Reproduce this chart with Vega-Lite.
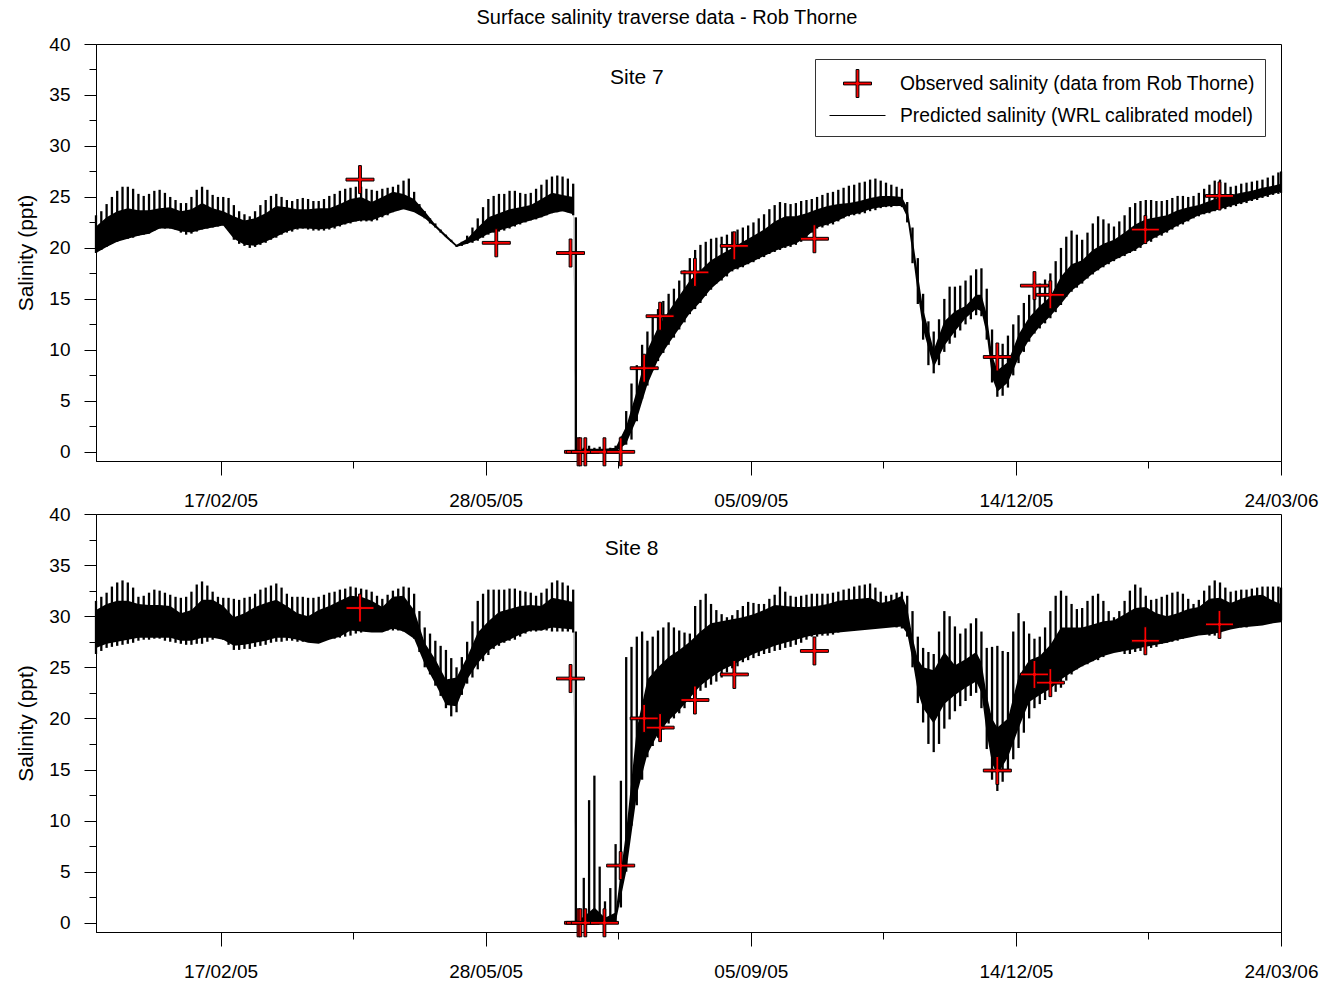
{
  "$schema": "https://vega.github.io/schema/vega-lite/v6.json",
  "background": "white",
  "padding": {"left": 15, "top": 7, "right": 5, "bottom": 5},
  "title": {"text": "Surface salinity traverse data - Rob Thorne", "fontSize": 20, "fontWeight": "normal", "font": "Liberation Sans", "color": "#000000", "anchor": "middle", "frame": "bounds", "offset": 7},
  "datasets": {
    "tide": [
      {"d":"2005-01-01","lo7":19.5,"hi7":23.2,"lo8":26.3,"hi8":31.5},
      {"d":"2005-01-03","lo7":19.8,"hi7":23.6,"lo8":26.6,"hi8":31.9},
      {"d":"2005-01-05","lo7":20.1,"hi7":24.3,"lo8":26.9,"hi8":32.3},
      {"d":"2005-01-07","lo7":20.4,"hi7":25.0,"lo8":27.0,"hi8":32.9},
      {"d":"2005-01-09","lo7":20.6,"hi7":25.6,"lo8":27.1,"hi8":33.3},
      {"d":"2005-01-11","lo7":20.8,"hi7":26.0,"lo8":27.2,"hi8":33.5},
      {"d":"2005-01-13","lo7":20.9,"hi7":26.0,"lo8":27.3,"hi8":33.3},
      {"d":"2005-01-15","lo7":21.0,"hi7":25.8,"lo8":27.4,"hi8":32.8},
      {"d":"2005-01-17","lo7":21.2,"hi7":25.3,"lo8":27.6,"hi8":31.9},
      {"d":"2005-01-19","lo7":21.3,"hi7":25.1,"lo8":27.7,"hi8":32.0},
      {"d":"2005-01-21","lo7":21.4,"hi7":25.3,"lo8":27.7,"hi8":32.3},
      {"d":"2005-01-23","lo7":21.7,"hi7":25.6,"lo8":27.8,"hi8":32.6},
      {"d":"2005-01-25","lo7":21.9,"hi7":25.7,"lo8":27.8,"hi8":32.5},
      {"d":"2005-01-27","lo7":21.9,"hi7":25.4,"lo8":27.6,"hi8":32.3},
      {"d":"2005-01-29","lo7":21.9,"hi7":25.0,"lo8":27.5,"hi8":32.1},
      {"d":"2005-01-31","lo7":21.8,"hi7":24.7,"lo8":27.4,"hi8":31.9},
      {"d":"2005-02-02","lo7":21.5,"hi7":24.4,"lo8":27.3,"hi8":31.8},
      {"d":"2005-02-04","lo7":21.3,"hi7":24.4,"lo8":27.2,"hi8":31.9},
      {"d":"2005-02-06","lo7":21.4,"hi7":25.0,"lo8":27.2,"hi8":32.4},
      {"d":"2005-02-08","lo7":21.6,"hi7":25.7,"lo8":27.3,"hi8":33.1},
      {"d":"2005-02-10","lo7":21.8,"hi7":26.0,"lo8":27.3,"hi8":33.4},
      {"d":"2005-02-12","lo7":21.9,"hi7":25.7,"lo8":27.5,"hi8":33.0},
      {"d":"2005-02-14","lo7":22.0,"hi7":25.2,"lo8":27.7,"hi8":32.4},
      {"d":"2005-02-16","lo7":22.1,"hi7":25.0,"lo8":27.9,"hi8":31.9},
      {"d":"2005-02-18","lo7":22.2,"hi7":25.0,"lo8":27.7,"hi8":31.8},
      {"d":"2005-02-20","lo7":22.0,"hi7":24.9,"lo8":27.2,"hi8":31.8},
      {"d":"2005-02-22","lo7":20.8,"hi7":24.2,"lo8":26.7,"hi8":31.7},
      {"d":"2005-02-24","lo7":20.4,"hi7":23.6,"lo8":26.7,"hi8":31.6},
      {"d":"2005-02-26","lo7":20.2,"hi7":23.3,"lo8":26.8,"hi8":31.8},
      {"d":"2005-02-28","lo7":20.0,"hi7":23.1,"lo8":26.8,"hi8":31.9},
      {"d":"2005-03-02","lo7":20.1,"hi7":23.6,"lo8":27.0,"hi8":32.2},
      {"d":"2005-03-04","lo7":20.3,"hi7":24.2,"lo8":27.1,"hi8":32.6},
      {"d":"2005-03-06","lo7":20.5,"hi7":24.7,"lo8":27.2,"hi8":32.8},
      {"d":"2005-03-08","lo7":20.8,"hi7":25.1,"lo8":27.4,"hi8":33.0},
      {"d":"2005-03-10","lo7":21.0,"hi7":25.3,"lo8":27.5,"hi8":33.2},
      {"d":"2005-03-12","lo7":21.3,"hi7":25.0,"lo8":27.5,"hi8":32.8},
      {"d":"2005-03-14","lo7":21.5,"hi7":24.7,"lo8":27.6,"hi8":32.2},
      {"d":"2005-03-16","lo7":21.6,"hi7":24.6,"lo8":27.6,"hi8":31.9},
      {"d":"2005-03-18","lo7":21.8,"hi7":24.8,"lo8":27.5,"hi8":31.9},
      {"d":"2005-03-20","lo7":21.9,"hi7":24.9,"lo8":27.5,"hi8":31.9},
      {"d":"2005-03-22","lo7":21.8,"hi7":24.8,"lo8":27.5,"hi8":31.8},
      {"d":"2005-03-24","lo7":21.7,"hi7":24.6,"lo8":27.5,"hi8":31.8},
      {"d":"2005-03-26","lo7":21.7,"hi7":24.6,"lo8":27.6,"hi8":31.9},
      {"d":"2005-03-28","lo7":21.7,"hi7":24.8,"lo8":27.7,"hi8":32.1},
      {"d":"2005-03-30","lo7":21.8,"hi7":25.1,"lo8":27.8,"hi8":32.3},
      {"d":"2005-04-01","lo7":21.9,"hi7":25.3,"lo8":27.8,"hi8":32.4},
      {"d":"2005-04-03","lo7":22.1,"hi7":25.6,"lo8":27.9,"hi8":32.6},
      {"d":"2005-04-05","lo7":22.3,"hi7":25.8,"lo8":28.0,"hi8":32.7},
      {"d":"2005-04-07","lo7":22.4,"hi7":25.9,"lo8":28.1,"hi8":32.9},
      {"d":"2005-04-09","lo7":22.6,"hi7":26.0,"lo8":28.3,"hi8":32.8},
      {"d":"2005-04-11","lo7":22.6,"hi7":26.0,"lo8":28.4,"hi8":32.7},
      {"d":"2005-04-13","lo7":22.6,"hi7":25.8,"lo8":28.5,"hi8":32.6},
      {"d":"2005-04-15","lo7":22.6,"hi7":25.7,"lo8":28.6,"hi8":32.4},
      {"d":"2005-04-17","lo7":22.7,"hi7":25.6,"lo8":28.6,"hi8":32.0},
      {"d":"2005-04-19","lo7":23.0,"hi7":25.8,"lo8":28.6,"hi8":31.7},
      {"d":"2005-04-21","lo7":23.2,"hi7":25.9,"lo8":28.6,"hi8":32.1},
      {"d":"2005-04-23","lo7":23.5,"hi7":26.0,"lo8":28.6,"hi8":32.5},
      {"d":"2005-04-25","lo7":23.7,"hi7":26.2,"lo8":28.6,"hi8":32.7},
      {"d":"2005-04-27","lo7":23.8,"hi7":26.6,"lo8":28.5,"hi8":32.9},
      {"d":"2005-04-29","lo7":23.9,"hi7":26.8,"lo8":28.5,"hi8":32.8},
      {"d":"2005-05-01","lo7":23.7,"hi7":25.5,"lo8":27.8,"hi8":32.2},
      {"d":"2005-05-03","lo7":23.3,"hi7":24.3,"lo8":26.5,"hi8":30.5},
      {"d":"2005-05-05","lo7":22.9,"hi7":23.6,"lo8":25.0,"hi8":28.9},
      {"d":"2005-05-07","lo7":22.4,"hi7":22.9,"lo8":24.3,"hi8":28.3},
      {"d":"2005-05-09","lo7":22.0,"hi7":22.4,"lo8":23.2,"hi8":27.6},
      {"d":"2005-05-11","lo7":21.5,"hi7":21.8,"lo8":22.2,"hi8":27.1},
      {"d":"2005-05-13","lo7":21.1,"hi7":21.3,"lo8":21.0,"hi8":26.7},
      {"d":"2005-05-15","lo7":20.6,"hi7":20.8,"lo8":20.2,"hi8":25.9},
      {"d":"2005-05-17","lo7":20.1,"hi7":20.3,"lo8":20.6,"hi8":25.0},
      {"d":"2005-05-19","lo7":20.2,"hi7":20.6,"lo8":22.3,"hi8":26.0},
      {"d":"2005-05-21","lo7":20.4,"hi7":21.2,"lo8":23.4,"hi8":27.5},
      {"d":"2005-05-23","lo7":20.5,"hi7":22.0,"lo8":24.0,"hi8":29.5},
      {"d":"2005-05-25","lo7":20.7,"hi7":22.9,"lo8":24.8,"hi8":31.5},
      {"d":"2005-05-27","lo7":21.0,"hi7":24.0,"lo8":25.6,"hi8":32.2},
      {"d":"2005-05-29","lo7":21.3,"hi7":24.8,"lo8":26.2,"hi8":32.6},
      {"d":"2005-05-31","lo7":21.5,"hi7":25.1,"lo8":26.8,"hi8":32.6},
      {"d":"2005-06-02","lo7":21.6,"hi7":25.3,"lo8":27.1,"hi8":32.6},
      {"d":"2005-06-04","lo7":21.7,"hi7":25.3,"lo8":27.4,"hi8":32.6},
      {"d":"2005-06-06","lo7":21.9,"hi7":25.6,"lo8":27.6,"hi8":32.7},
      {"d":"2005-06-08","lo7":22.1,"hi7":25.6,"lo8":27.7,"hi8":32.7},
      {"d":"2005-06-10","lo7":22.3,"hi7":25.4,"lo8":28.0,"hi8":32.5},
      {"d":"2005-06-12","lo7":22.5,"hi7":25.3,"lo8":28.3,"hi8":32.4},
      {"d":"2005-06-14","lo7":22.7,"hi7":25.4,"lo8":28.5,"hi8":32.3},
      {"d":"2005-06-16","lo7":22.8,"hi7":25.8,"lo8":28.5,"hi8":32.0},
      {"d":"2005-06-18","lo7":23.0,"hi7":26.2,"lo8":28.6,"hi8":32.3},
      {"d":"2005-06-20","lo7":23.2,"hi7":26.7,"lo8":28.6,"hi8":32.7},
      {"d":"2005-06-22","lo7":23.4,"hi7":27.0,"lo8":28.5,"hi8":33.3},
      {"d":"2005-06-24","lo7":23.5,"hi7":27.1,"lo8":28.5,"hi8":33.5},
      {"d":"2005-06-26","lo7":23.6,"hi7":27.0,"lo8":28.5,"hi8":33.3},
      {"d":"2005-06-28","lo7":23.5,"hi7":26.8,"lo8":28.5,"hi8":33.0},
      {"d":"2005-06-30","lo7":23.2,"hi7":26.3,"lo8":28.4,"hi8":32.6},
      {"d":"2005-07-01","lo7":0,"hi7":23.0,"lo8":0,"hi8":28.5},
      {"d":"2005-07-02","lo7":0,"hi7":0.3,"lo8":0,"hi8":0.3},
      {"d":"2005-07-04","lo7":0,"hi7":0.4,"lo8":0,"hi8":4.4},
      {"d":"2005-07-06","lo7":0,"hi7":0.6,"lo8":0,"hi8":12.0},
      {"d":"2005-07-08","lo7":0,"hi7":0.4,"lo8":0,"hi8":14.4},
      {"d":"2005-07-10","lo7":0,"hi7":0.5,"lo8":0,"hi8":5.5},
      {"d":"2005-07-12","lo7":0,"hi7":0.3,"lo8":0,"hi8":2.1},
      {"d":"2005-07-14","lo7":0,"hi7":0.4,"lo8":0,"hi8":3.4},
      {"d":"2005-07-16","lo7":0,"hi7":0.6,"lo8":0,"hi8":7.7},
      {"d":"2005-07-18","lo7":0.3,"hi7":1.5,"lo8":1.5,"hi8":13.9},
      {"d":"2005-07-20","lo7":0.7,"hi7":4.0,"lo8":5.0,"hi8":26.0},
      {"d":"2005-07-22","lo7":1.2,"hi7":6.7,"lo8":9.5,"hi8":27.0},
      {"d":"2005-07-24","lo7":3.0,"hi7":8.5,"lo8":11.5,"hi8":28.0},
      {"d":"2005-07-26","lo7":5.2,"hi7":10.5,"lo8":14.0,"hi8":28.5},
      {"d":"2005-07-28","lo7":6.5,"hi7":11.8,"lo8":16.2,"hi8":27.6},
      {"d":"2005-07-30","lo7":8.0,"hi7":13.2,"lo8":17.3,"hi8":28.0},
      {"d":"2005-08-01","lo7":8.9,"hi7":14.0,"lo8":18.1,"hi8":28.6},
      {"d":"2005-08-03","lo7":9.7,"hi7":14.8,"lo8":18.9,"hi8":28.9},
      {"d":"2005-08-05","lo7":10.5,"hi7":15.5,"lo8":19.5,"hi8":29.4},
      {"d":"2005-08-07","lo7":11.2,"hi7":16.0,"lo8":20.0,"hi8":28.9},
      {"d":"2005-08-09","lo7":12.0,"hi7":16.8,"lo8":20.5,"hi8":28.6},
      {"d":"2005-08-11","lo7":12.7,"hi7":17.8,"lo8":21.0,"hi8":28.4},
      {"d":"2005-08-13","lo7":13.5,"hi7":19.0,"lo8":21.6,"hi8":28.3},
      {"d":"2005-08-15","lo7":14.0,"hi7":19.8,"lo8":22.3,"hi8":31.0},
      {"d":"2005-08-17","lo7":14.6,"hi7":20.3,"lo8":22.7,"hi8":31.6},
      {"d":"2005-08-19","lo7":15.3,"hi7":20.6,"lo8":23.0,"hi8":32.2},
      {"d":"2005-08-21","lo7":15.9,"hi7":20.9,"lo8":23.3,"hi8":31.2},
      {"d":"2005-08-23","lo7":16.5,"hi7":21.0,"lo8":23.6,"hi8":30.6},
      {"d":"2005-08-25","lo7":16.8,"hi7":21.1,"lo8":24.0,"hi8":30.2},
      {"d":"2005-08-27","lo7":17.2,"hi7":21.3,"lo8":24.5,"hi8":29.9},
      {"d":"2005-08-29","lo7":17.7,"hi7":21.6,"lo8":24.9,"hi8":30.1},
      {"d":"2005-08-31","lo7":17.9,"hi7":21.8,"lo8":25.1,"hi8":30.6},
      {"d":"2005-09-02","lo7":18.1,"hi7":22.0,"lo8":25.5,"hi8":31.0},
      {"d":"2005-09-04","lo7":18.4,"hi7":22.2,"lo8":25.7,"hi8":31.4},
      {"d":"2005-09-06","lo7":18.6,"hi7":22.5,"lo8":25.9,"hi8":31.3},
      {"d":"2005-09-08","lo7":18.9,"hi7":22.9,"lo8":26.1,"hi8":31.2},
      {"d":"2005-09-10","lo7":19.1,"hi7":23.3,"lo8":26.3,"hi8":31.2},
      {"d":"2005-09-12","lo7":19.4,"hi7":23.8,"lo8":26.4,"hi8":31.7},
      {"d":"2005-09-14","lo7":19.6,"hi7":24.2,"lo8":26.6,"hi8":32.1},
      {"d":"2005-09-16","lo7":19.8,"hi7":24.5,"lo8":26.7,"hi8":32.9},
      {"d":"2005-09-18","lo7":20.0,"hi7":24.4,"lo8":26.9,"hi8":32.4},
      {"d":"2005-09-20","lo7":20.1,"hi7":24.3,"lo8":27.0,"hi8":32.0},
      {"d":"2005-09-22","lo7":20.3,"hi7":24.4,"lo8":27.2,"hi8":31.9},
      {"d":"2005-09-24","lo7":20.6,"hi7":24.6,"lo8":27.4,"hi8":32.0},
      {"d":"2005-09-26","lo7":21.0,"hi7":24.7,"lo8":27.7,"hi8":32.1},
      {"d":"2005-09-28","lo7":21.5,"hi7":24.8,"lo8":28.0,"hi8":32.2},
      {"d":"2005-09-30","lo7":21.9,"hi7":25.0,"lo8":28.0,"hi8":32.2},
      {"d":"2005-10-02","lo7":22.0,"hi7":25.2,"lo8":28.1,"hi8":32.2},
      {"d":"2005-10-04","lo7":22.2,"hi7":25.4,"lo8":28.1,"hi8":32.2},
      {"d":"2005-10-06","lo7":22.3,"hi7":25.5,"lo8":28.2,"hi8":32.3},
      {"d":"2005-10-08","lo7":22.6,"hi7":25.7,"lo8":28.4,"hi8":32.4},
      {"d":"2005-10-10","lo7":22.9,"hi7":25.9,"lo8":28.6,"hi8":32.6},
      {"d":"2005-10-12","lo7":23.1,"hi7":26.1,"lo8":28.6,"hi8":32.7},
      {"d":"2005-10-14","lo7":23.2,"hi7":26.2,"lo8":28.7,"hi8":32.9},
      {"d":"2005-10-16","lo7":23.3,"hi7":26.4,"lo8":28.8,"hi8":33.0},
      {"d":"2005-10-18","lo7":23.4,"hi7":26.5,"lo8":28.9,"hi8":33.1},
      {"d":"2005-10-20","lo7":23.6,"hi7":26.7,"lo8":29.1,"hi8":33.2},
      {"d":"2005-10-22","lo7":23.7,"hi7":26.8,"lo8":29.2,"hi8":32.8},
      {"d":"2005-10-24","lo7":23.9,"hi7":26.6,"lo8":29.2,"hi8":32.4},
      {"d":"2005-10-26","lo7":24.0,"hi7":26.4,"lo8":29.1,"hi8":32.0},
      {"d":"2005-10-28","lo7":24.0,"hi7":26.2,"lo8":29.0,"hi8":32.1},
      {"d":"2005-10-30","lo7":24.1,"hi7":26.0,"lo8":28.9,"hi8":32.3},
      {"d":"2005-11-01","lo7":24.0,"hi7":25.8,"lo8":28.8,"hi8":32.4},
      {"d":"2005-11-03","lo7":22.5,"hi7":24.5,"lo8":28.0,"hi8":32.0},
      {"d":"2005-11-05","lo7":18.5,"hi7":22.0,"lo8":25.0,"hi8":30.5},
      {"d":"2005-11-07","lo7":14.5,"hi7":19.0,"lo8":21.5,"hi8":28.0},
      {"d":"2005-11-09","lo7":11.0,"hi7":15.5,"lo8":19.6,"hi8":26.9},
      {"d":"2005-11-11","lo7":8.5,"hi7":12.8,"lo8":17.5,"hi8":26.5},
      {"d":"2005-11-13","lo7":7.7,"hi7":11.8,"lo8":16.7,"hi8":26.3},
      {"d":"2005-11-15","lo7":8.5,"hi7":13.0,"lo8":17.5,"hi8":28.5},
      {"d":"2005-11-17","lo7":9.8,"hi7":15.0,"lo8":19.0,"hi8":30.5},
      {"d":"2005-11-19","lo7":10.6,"hi7":16.2,"lo8":19.9,"hi8":30.0},
      {"d":"2005-11-21","lo7":11.2,"hi7":16.2,"lo8":20.7,"hi8":29.0},
      {"d":"2005-11-23","lo7":11.9,"hi7":16.3,"lo8":21.2,"hi8":28.3},
      {"d":"2005-11-25","lo7":12.5,"hi7":16.8,"lo8":21.7,"hi8":28.8},
      {"d":"2005-11-27","lo7":13.0,"hi7":17.3,"lo8":22.2,"hi8":29.3},
      {"d":"2005-11-29","lo7":13.4,"hi7":17.9,"lo8":22.5,"hi8":29.8},
      {"d":"2005-12-01","lo7":13.3,"hi7":18.0,"lo8":21.0,"hi8":28.5},
      {"d":"2005-12-03","lo7":11.0,"hi7":16.0,"lo8":17.0,"hi8":26.9},
      {"d":"2005-12-05","lo7":6.8,"hi7":12.0,"lo8":14.0,"hi8":27.0},
      {"d":"2005-12-07","lo7":5.4,"hi7":10.3,"lo8":12.9,"hi8":27.1},
      {"d":"2005-12-09","lo7":5.5,"hi7":10.6,"lo8":13.8,"hi8":26.6},
      {"d":"2005-12-11","lo7":6.3,"hi7":11.4,"lo8":15.0,"hi8":26.5},
      {"d":"2005-12-13","lo7":7.5,"hi7":12.5,"lo8":16.0,"hi8":28.5},
      {"d":"2005-12-15","lo7":8.7,"hi7":13.4,"lo8":17.1,"hi8":30.3},
      {"d":"2005-12-17","lo7":9.8,"hi7":14.6,"lo8":18.6,"hi8":29.5},
      {"d":"2005-12-19","lo7":10.8,"hi7":15.4,"lo8":20.0,"hi8":28.3},
      {"d":"2005-12-21","lo7":11.6,"hi7":16.1,"lo8":21.0,"hi8":27.8},
      {"d":"2005-12-23","lo7":12.1,"hi7":16.5,"lo8":21.4,"hi8":28.0},
      {"d":"2005-12-25","lo7":12.6,"hi7":16.9,"lo8":21.8,"hi8":28.9},
      {"d":"2005-12-27","lo7":13.1,"hi7":17.5,"lo8":22.2,"hi8":30.5},
      {"d":"2005-12-29","lo7":13.7,"hi7":18.7,"lo8":22.6,"hi8":32.0},
      {"d":"2005-12-31","lo7":14.4,"hi7":20.0,"lo8":23.0,"hi8":32.5},
      {"d":"2006-01-02","lo7":15.2,"hi7":21.1,"lo8":23.7,"hi8":32.0},
      {"d":"2006-01-04","lo7":15.7,"hi7":21.7,"lo8":24.3,"hi8":31.2},
      {"d":"2006-01-06","lo7":16.1,"hi7":21.3,"lo8":24.8,"hi8":30.7},
      {"d":"2006-01-08","lo7":16.5,"hi7":20.8,"lo8":25.1,"hi8":30.8},
      {"d":"2006-01-10","lo7":17.0,"hi7":21.5,"lo8":25.3,"hi8":31.5},
      {"d":"2006-01-12","lo7":17.4,"hi7":22.4,"lo8":25.6,"hi8":32.0},
      {"d":"2006-01-14","lo7":17.8,"hi7":23.1,"lo8":25.7,"hi8":32.2},
      {"d":"2006-01-16","lo7":18.1,"hi7":22.8,"lo8":26.0,"hi8":31.5},
      {"d":"2006-01-18","lo7":18.4,"hi7":22.4,"lo8":26.4,"hi8":30.5},
      {"d":"2006-01-20","lo7":18.7,"hi7":22.1,"lo8":26.7,"hi8":29.9},
      {"d":"2006-01-22","lo7":19.0,"hi7":22.6,"lo8":26.5,"hi8":30.5},
      {"d":"2006-01-24","lo7":19.2,"hi7":23.2,"lo8":26.3,"hi8":31.5},
      {"d":"2006-01-26","lo7":19.5,"hi7":24.0,"lo8":26.3,"hi8":32.5},
      {"d":"2006-01-28","lo7":19.7,"hi7":24.4,"lo8":26.5,"hi8":33.1},
      {"d":"2006-01-30","lo7":20.0,"hi7":24.6,"lo8":26.6,"hi8":32.8},
      {"d":"2006-02-01","lo7":20.4,"hi7":24.7,"lo8":26.7,"hi8":32.0},
      {"d":"2006-02-03","lo7":20.6,"hi7":24.7,"lo8":26.9,"hi8":31.6},
      {"d":"2006-02-05","lo7":21.0,"hi7":24.6,"lo8":27.0,"hi8":31.7},
      {"d":"2006-02-07","lo7":21.2,"hi7":24.6,"lo8":27.3,"hi8":31.9},
      {"d":"2006-02-09","lo7":21.5,"hi7":24.7,"lo8":27.4,"hi8":32.1},
      {"d":"2006-02-11","lo7":21.8,"hi7":24.9,"lo8":27.5,"hi8":32.3},
      {"d":"2006-02-13","lo7":22.1,"hi7":25.1,"lo8":27.6,"hi8":32.4},
      {"d":"2006-02-15","lo7":22.3,"hi7":25.1,"lo8":27.8,"hi8":32.2},
      {"d":"2006-02-17","lo7":22.6,"hi7":25.0,"lo8":28.0,"hi8":31.7},
      {"d":"2006-02-19","lo7":22.9,"hi7":25.1,"lo8":28.2,"hi8":31.2},
      {"d":"2006-02-21","lo7":23.1,"hi7":25.4,"lo8":28.3,"hi8":31.6},
      {"d":"2006-02-23","lo7":23.3,"hi7":25.8,"lo8":28.2,"hi8":32.5},
      {"d":"2006-02-25","lo7":23.4,"hi7":26.2,"lo8":28.1,"hi8":33.0},
      {"d":"2006-02-27","lo7":23.6,"hi7":26.6,"lo8":28.1,"hi8":33.5},
      {"d":"2006-03-01","lo7":23.7,"hi7":26.7,"lo8":28.3,"hi8":33.3},
      {"d":"2006-03-03","lo7":23.8,"hi7":26.4,"lo8":28.7,"hi8":32.8},
      {"d":"2006-03-05","lo7":24.0,"hi7":26.0,"lo8":28.9,"hi8":32.4},
      {"d":"2006-03-07","lo7":24.1,"hi7":26.1,"lo8":28.9,"hi8":32.5},
      {"d":"2006-03-09","lo7":24.3,"hi7":26.3,"lo8":28.9,"hi8":32.6},
      {"d":"2006-03-11","lo7":24.4,"hi7":26.4,"lo8":28.9,"hi8":32.6},
      {"d":"2006-03-13","lo7":24.6,"hi7":26.5,"lo8":29.1,"hi8":32.7},
      {"d":"2006-03-15","lo7":24.7,"hi7":26.6,"lo8":29.2,"hi8":32.8},
      {"d":"2006-03-17","lo7":24.9,"hi7":26.7,"lo8":29.3,"hi8":32.9},
      {"d":"2006-03-19","lo7":25.0,"hi7":26.9,"lo8":29.4,"hi8":32.9},
      {"d":"2006-03-21","lo7":25.2,"hi7":27.1,"lo8":29.5,"hi8":32.9},
      {"d":"2006-03-23","lo7":25.3,"hi7":27.4,"lo8":29.6,"hi8":32.9},
      {"d":"2006-03-24","lo7":25.4,"hi7":27.5,"lo8":29.6,"hi8":32.8}
    ],
    "band": [
      {"d":"2005-01-01","a7":19.5,"b7":22.1,"a8":26.9,"b8":30.6},
      {"d":"2005-01-05","a7":20.1,"b7":23.0,"a8":27.3,"b8":31.2},
      {"d":"2005-01-09","a7":20.6,"b7":23.6,"a8":27.5,"b8":31.5},
      {"d":"2005-01-13","a7":20.9,"b7":23.9,"a8":27.7,"b8":31.5},
      {"d":"2005-01-17","a7":21.2,"b7":23.7,"a8":27.9,"b8":31.2},
      {"d":"2005-01-21","a7":21.4,"b7":23.7,"a8":27.9,"b8":31.1},
      {"d":"2005-01-25","a7":21.9,"b7":23.9,"a8":27.9,"b8":31.1},
      {"d":"2005-01-29","a7":21.9,"b7":24.0,"a8":27.9,"b8":31.0},
      {"d":"2005-02-02","a7":21.6,"b7":23.6,"a8":27.6,"b8":30.3},
      {"d":"2005-02-06","a7":21.5,"b7":23.8,"a8":27.6,"b8":30.6},
      {"d":"2005-02-10","a7":21.8,"b7":24.4,"a8":27.9,"b8":31.6},
      {"d":"2005-02-14","a7":22.0,"b7":23.9,"a8":27.9,"b8":31.6},
      {"d":"2005-02-18","a7":22.2,"b7":23.6,"a8":27.7,"b8":31.0},
      {"d":"2005-02-22","a7":20.9,"b7":23.1,"a8":27.1,"b8":29.9},
      {"d":"2005-02-26","a7":20.3,"b7":22.7,"a8":27.2,"b8":30.3},
      {"d":"2005-03-02","a7":20.2,"b7":22.9,"a8":27.4,"b8":30.9},
      {"d":"2005-03-06","a7":20.6,"b7":23.4,"a8":27.6,"b8":31.3},
      {"d":"2005-03-10","a7":21.1,"b7":24.1,"a8":27.9,"b8":31.6},
      {"d":"2005-03-14","a7":21.6,"b7":24.0,"a8":27.9,"b8":31.0},
      {"d":"2005-03-18","a7":21.9,"b7":23.8,"a8":27.7,"b8":30.3},
      {"d":"2005-03-22","a7":21.9,"b7":23.8,"a8":27.4,"b8":30.0},
      {"d":"2005-03-26","a7":21.8,"b7":23.9,"a8":27.3,"b8":30.6},
      {"d":"2005-03-30","a7":21.9,"b7":23.9,"a8":27.7,"b8":31.0},
      {"d":"2005-04-03","a7":22.2,"b7":24.3,"a8":28.0,"b8":31.5},
      {"d":"2005-04-07","a7":22.5,"b7":24.8,"a8":28.6,"b8":32.0},
      {"d":"2005-04-11","a7":22.7,"b7":25.0,"a8":28.5,"b8":31.9},
      {"d":"2005-04-15","a7":22.7,"b7":24.5,"a8":28.4,"b8":31.5},
      {"d":"2005-04-19","a7":23.1,"b7":25.0,"a8":28.4,"b8":30.9},
      {"d":"2005-04-23","a7":23.5,"b7":25.5,"a8":28.8,"b8":31.9},
      {"d":"2005-04-27","a7":23.8,"b7":25.3,"a8":28.5,"b8":32.0},
      {"d":"2005-05-01","a7":23.5,"b7":24.8,"a8":27.8,"b8":30.6},
      {"d":"2005-05-05","a7":22.9,"b7":23.6,"a8":25.3,"b8":27.4},
      {"d":"2005-05-09","a7":22.0,"b7":22.3,"a8":23.4,"b8":25.8},
      {"d":"2005-05-13","a7":21.0,"b7":21.3,"a8":21.3,"b8":23.8},
      {"d":"2005-05-17","a7":20.1,"b7":20.3,"a8":21.2,"b8":24.0},
      {"d":"2005-05-21","a7":20.4,"b7":20.9,"a8":23.8,"b8":26.0},
      {"d":"2005-05-25","a7":20.8,"b7":22.0,"a8":25.4,"b8":28.4},
      {"d":"2005-05-29","a7":21.4,"b7":23.0,"a8":26.6,"b8":29.5},
      {"d":"2005-06-02","a7":21.7,"b7":23.4,"a8":27.3,"b8":30.4},
      {"d":"2005-06-06","a7":22.0,"b7":23.8,"a8":27.7,"b8":30.7},
      {"d":"2005-06-10","a7":22.4,"b7":24.0,"a8":28.2,"b8":31.0},
      {"d":"2005-06-14","a7":22.7,"b7":24.2,"a8":28.6,"b8":31.1},
      {"d":"2005-06-18","a7":23.0,"b7":24.8,"a8":28.6,"b8":31.0},
      {"d":"2005-06-22","a7":23.4,"b7":25.4,"a8":28.9,"b8":31.8},
      {"d":"2005-06-26","a7":23.6,"b7":25.2,"a8":28.8,"b8":31.6},
      {"d":"2005-06-30","a7":23.3,"b7":25.0,"a8":28.7,"b8":31.4},
      {"d":"2005-07-01","a7":0,"b7":0.2,"a8":0,"b8":0.2},
      {"d":"2005-07-04","a7":0,"b7":0.3,"a8":0,"b8":0.6},
      {"d":"2005-07-08","a7":0,"b7":0.3,"a8":0,"b8":1.5},
      {"d":"2005-07-12","a7":0,"b7":0.3,"a8":0,"b8":0.5},
      {"d":"2005-07-16","a7":0,"b7":0.4,"a8":0,"b8":1.0},
      {"d":"2005-07-20","a7":0.8,"b7":2.5,"a8":5.0,"b8":9.0},
      {"d":"2005-07-24","a7":3.2,"b7":6.0,"a8":12.5,"b8":19.0},
      {"d":"2005-07-28","a7":6.6,"b7":10.0,"a8":16.5,"b8":23.8},
      {"d":"2005-08-01","a7":9.0,"b7":12.2,"a8":18.5,"b8":25.0},
      {"d":"2005-08-05","a7":10.6,"b7":13.8,"a8":19.8,"b8":26.0},
      {"d":"2005-08-09","a7":12.1,"b7":15.3,"a8":20.8,"b8":26.7},
      {"d":"2005-08-13","a7":13.6,"b7":16.8,"a8":22.0,"b8":27.5},
      {"d":"2005-08-17","a7":14.7,"b7":17.8,"a8":23.2,"b8":28.5},
      {"d":"2005-08-21","a7":16.0,"b7":18.8,"a8":24.0,"b8":29.3},
      {"d":"2005-08-25","a7":16.9,"b7":19.4,"a8":24.7,"b8":29.5},
      {"d":"2005-08-29","a7":17.8,"b7":20.0,"a8":25.2,"b8":29.7},
      {"d":"2005-09-02","a7":18.2,"b7":20.6,"a8":25.8,"b8":29.9},
      {"d":"2005-09-06","a7":18.7,"b7":21.2,"a8":26.3,"b8":30.2},
      {"d":"2005-09-10","a7":19.2,"b7":21.8,"a8":26.7,"b8":30.6},
      {"d":"2005-09-14","a7":19.7,"b7":22.6,"a8":27.1,"b8":31.1},
      {"d":"2005-09-18","a7":20.1,"b7":23.1,"a8":27.4,"b8":31.0},
      {"d":"2005-09-22","a7":20.4,"b7":23.1,"a8":27.7,"b8":30.9},
      {"d":"2005-09-26","a7":21.1,"b7":23.4,"a8":28.0,"b8":30.9},
      {"d":"2005-09-30","a7":22.0,"b7":23.8,"a8":28.2,"b8":31.0},
      {"d":"2005-10-04","a7":22.3,"b7":24.1,"a8":28.3,"b8":31.2},
      {"d":"2005-10-08","a7":22.7,"b7":24.3,"a8":28.4,"b8":31.5},
      {"d":"2005-10-12","a7":23.2,"b7":24.4,"a8":28.5,"b8":31.6},
      {"d":"2005-10-16","a7":23.4,"b7":24.6,"a8":28.6,"b8":31.7},
      {"d":"2005-10-20","a7":23.8,"b7":24.9,"a8":28.7,"b8":31.8},
      {"d":"2005-10-24","a7":24.0,"b7":25.1,"a8":28.8,"b8":31.3},
      {"d":"2005-10-28","a7":24.1,"b7":25.1,"a8":28.9,"b8":31.5},
      {"d":"2005-11-01","a7":24.1,"b7":25.0,"a8":29.0,"b8":32.0},
      {"d":"2005-11-03","a7":23.0,"b7":24.0,"a8":28.3,"b8":30.8},
      {"d":"2005-11-05","a7":19.5,"b7":21.0,"a8":25.7,"b8":28.0},
      {"d":"2005-11-07","a7":15.5,"b7":17.5,"a8":22.6,"b8":25.8},
      {"d":"2005-11-09","a7":12.0,"b7":14.0,"a8":21.0,"b8":25.0},
      {"d":"2005-11-13","a7":8.3,"b7":10.0,"a8":19.5,"b8":24.7},
      {"d":"2005-11-17","a7":10.4,"b7":12.8,"a8":21.4,"b8":26.5},
      {"d":"2005-11-21","a7":11.8,"b7":13.8,"a8":22.3,"b8":25.2},
      {"d":"2005-11-25","a7":13.1,"b7":14.3,"a8":23.0,"b8":25.8},
      {"d":"2005-11-29","a7":14.0,"b7":15.4,"a8":23.6,"b8":26.5},
      {"d":"2005-12-01","a7":13.8,"b7":15.4,"a8":22.5,"b8":25.5},
      {"d":"2005-12-03","a7":11.5,"b7":13.5,"a8":18.5,"b8":22.3},
      {"d":"2005-12-05","a7":7.3,"b7":9.5,"a8":15.6,"b8":20.0},
      {"d":"2005-12-07","a7":5.9,"b7":8.0,"a8":14.5,"b8":19.1},
      {"d":"2005-12-11","a7":6.8,"b7":8.8,"a8":16.2,"b8":20.0},
      {"d":"2005-12-15","a7":9.2,"b7":11.5,"a8":19.0,"b8":24.1},
      {"d":"2005-12-19","a7":11.0,"b7":13.2,"a8":21.6,"b8":25.7},
      {"d":"2005-12-23","a7":12.3,"b7":14.3,"a8":22.3,"b8":26.1},
      {"d":"2005-12-27","a7":13.3,"b7":15.2,"a8":22.9,"b8":27.2},
      {"d":"2005-12-31","a7":14.5,"b7":17.2,"a8":23.8,"b8":28.9},
      {"d":"2006-01-04","a7":15.8,"b7":18.4,"a8":24.5,"b8":28.9},
      {"d":"2006-01-08","a7":16.6,"b7":18.8,"a8":25.1,"b8":28.9},
      {"d":"2006-01-12","a7":17.5,"b7":19.8,"a8":25.6,"b8":29.2},
      {"d":"2006-01-16","a7":18.2,"b7":20.4,"a8":26.1,"b8":29.5},
      {"d":"2006-01-20","a7":18.8,"b7":20.8,"a8":26.4,"b8":29.6},
      {"d":"2006-01-24","a7":19.3,"b7":21.5,"a8":26.6,"b8":30.2},
      {"d":"2006-01-28","a7":19.8,"b7":22.3,"a8":26.8,"b8":30.8},
      {"d":"2006-02-01","a7":20.5,"b7":22.8,"a8":27.0,"b8":30.9},
      {"d":"2006-02-05","a7":21.1,"b7":23.0,"a8":27.2,"b8":30.3},
      {"d":"2006-02-09","a7":21.6,"b7":23.2,"a8":27.4,"b8":30.0},
      {"d":"2006-02-13","a7":22.2,"b7":23.7,"a8":27.7,"b8":30.3},
      {"d":"2006-02-17","a7":22.7,"b7":24.0,"a8":27.9,"b8":30.7},
      {"d":"2006-02-21","a7":23.2,"b7":24.2,"a8":28.1,"b8":30.9},
      {"d":"2006-02-25","a7":23.5,"b7":24.6,"a8":28.2,"b8":31.7},
      {"d":"2006-03-01","a7":23.8,"b7":25.0,"a8":28.4,"b8":31.8},
      {"d":"2006-03-05","a7":24.1,"b7":25.2,"a8":28.7,"b8":31.3},
      {"d":"2006-03-09","a7":24.4,"b7":25.4,"a8":28.9,"b8":31.7},
      {"d":"2006-03-13","a7":24.7,"b7":25.6,"a8":29.0,"b8":32.0},
      {"d":"2006-03-17","a7":25.0,"b7":25.9,"a8":29.1,"b8":32.1},
      {"d":"2006-03-21","a7":25.3,"b7":26.1,"a8":29.3,"b8":31.5},
      {"d":"2006-03-24","a7":25.5,"b7":26.3,"a8":29.4,"b8":31.2}
    ],
    "obs": [
      {"d":"2005-04-10T14:00Z","site7":26.7,"site8":30.8},
      {"d":"2005-06-01","site7":20.5,"site8":null},
      {"d":"2005-06-29","site7":19.5,"site8":23.9},
      {"d":"2005-07-02","site7":0,"site8":0},
      {"d":"2005-07-02T17:00Z","site7":0,"site8":0},
      {"d":"2005-07-04T14:00Z","site7":0,"site8":0},
      {"d":"2005-07-11T19:00Z","site7":0,"site8":0},
      {"d":"2005-07-17T22:00Z","site7":0,"site8":5.6},
      {"d":"2005-07-26T19:00Z","site7":8.2,"site8":20.0},
      {"d":"2005-08-01T19:00Z","site7":13.3,"site8":19.1},
      {"d":"2005-08-14T22:00Z","site7":17.6,"site8":21.8},
      {"d":"2005-08-29T19:00Z","site7":20.2,"site8":24.3},
      {"d":"2005-09-29","site7":20.9,"site8":26.6},
      {"d":"2005-12-07","site7":9.3,"site8":14.9},
      {"d":"2005-12-21","site7":16.3,"site8":24.3},
      {"d":"2005-12-27","site7":15.4,"site8":23.5},
      {"d":"2006-01-31T20:00Z","site7":21.8,"site8":27.6},
      {"d":"2006-02-28T19:00Z","site7":25.1,"site8":29.2}
    ]
  },
  "vconcat": [
    {
      "width": 1185,
      "height": 417,
      "layer": [
        {
          "data": {"name": "band"},
          "mark": {"type": "area", "color": "#000000", "opacity": 1},
          "encoding": {
            "x": {"field": "d", "type": "temporal",
              "scale": {"type": "utc", "nice": false, "domain": [{"year": 2005, "month": 1, "date": 1, "utc": true}, {"year": 2006, "month": 3, "date": 24, "utc": true}]},
              "axis": {"orient": "bottom", "title": null, "values": [{"year": 2005, "month": 2, "date": 17, "utc": true}, {"year": 2005, "month": 5, "date": 28, "utc": true}, {"year": 2005, "month": 9, "date": 5, "utc": true}, {"year": 2005, "month": 12, "date": 14, "utc": true}, {"year": 2006, "month": 3, "date": 24, "utc": true}], "format": "%d/%m/%y", "tickSize": 14, "labelPadding": 16, "labelFlush": false, "labelOverlap": false, "labelFontSize": 19}},
            "y": {"field": "a7", "type": "quantitative",
              "scale": {"domain": [-0.9, 40], "nice": false, "zero": false},
              "axis": {"orient": "left", "title": "Salinity (ppt)", "values": [0, 5, 10, 15, 20, 25, 30, 35, 40], "tickSize": 12, "labelPadding": 14, "labelFontSize": 19, "titleFontSize": 21, "titleFontWeight": "normal", "titlePadding": 12}},
            "y2": {"field": "b7"}
          }
        },
        {
          "data": {"name": "tide"},
          "mark": {"type": "rule", "color": "#000000", "strokeWidth": 2.3},
          "encoding": {
            "x": {"field": "d", "type": "temporal",
              "axis": {"orient": "bottom", "title": null, "values": [{"year": 2005, "month": 4, "date": 8, "utc": true}, {"year": 2005, "month": 7, "date": 17, "utc": true}, {"year": 2005, "month": 10, "date": 25, "utc": true}, {"year": 2006, "month": 2, "date": 2, "utc": true}], "tickSize": 7, "labels": false, "domain": false}},
            "y": {"field": "lo7", "type": "quantitative",
              "axis": {"orient": "left", "title": null, "values": [2.5, 7.5, 12.5, 17.5, 22.5, 27.5, 32.5, 37.5], "tickSize": 7, "labels": false, "domain": false}},
            "y2": {"field": "hi7"}
          }
        },
        {
          "data": {"name": "obs"},
          "transform": [{"filter": "isValid(datum.site7)"}],
          "mark": {"type": "point", "shape": "M-0.1,-1H0.1V-0.1H1V0.1H0.1V1H-0.1V0.1H-1V-0.1H-0.1Z", "size": 784, "filled": true, "fill": "#ff0000", "stroke": "#000000", "strokeWidth": 1, "opacity": 1},
          "encoding": {
            "x": {"field": "d", "type": "temporal", "axis": null},
            "y": {"field": "site7", "type": "quantitative", "axis": null},
            "shape": {"datum": "Observed salinity (data from Rob Thorne)", "type": "nominal",
              "scale": {"domain": ["Observed salinity (data from Rob Thorne)", "Predicted salinity (WRL calibrated model)"], "range": ["M-0.1,-1H0.1V-0.1H1V0.1H0.1V1H-0.1V0.1H-1V-0.1H-0.1Z", "M-2,0H2"]},
              "legend": {"title": null, "orient": "none", "legendX": 719, "legendY": 15, "symbolSize": 784, "symbolStrokeWidth": 1, "symbolOffset": 18, "labelOffset": 28, "labelFontSize": 19.3, "labelFont": "Liberation Sans", "labelColor": "#000000", "labelLimit": 600, "rowPadding": 1, "padding": 10, "strokeColor": "#333333", "fillColor": "#ffffff",
                "encoding": {"symbols": {"stroke": {"value": "#000000"}, "strokeWidth": {"value": 1}, "strokeOpacity": {"value": 1}, "fill": {"value": "#ff0000"}, "fillOpacity": {"value": 1}}}}}
          }
        },
        {
          "data": {"values": [{"d": "2005-07-24", "v": 36.7, "label": "Site 7"}]},
          "mark": {"type": "text", "fontSize": 21, "font": "Liberation Sans", "color": "#000000", "align": "center", "baseline": "middle"},
          "encoding": {
            "x": {"field": "d", "type": "temporal", "axis": null},
            "y": {"field": "v", "type": "quantitative", "axis": null},
            "text": {"field": "label"}
          }
        }
      ],
      "resolve": {"axis": {"x": "independent", "y": "independent"}}
    },
    {
      "width": 1185,
      "height": 418,
      "layer": [
        {
          "data": {"name": "band"},
          "mark": {"type": "area", "color": "#000000", "opacity": 1},
          "encoding": {
            "x": {"field": "d", "type": "temporal",
              "scale": {"type": "utc", "nice": false, "domain": [{"year": 2005, "month": 1, "date": 1, "utc": true}, {"year": 2006, "month": 3, "date": 24, "utc": true}]},
              "axis": {"orient": "bottom", "title": null, "values": [{"year": 2005, "month": 2, "date": 17, "utc": true}, {"year": 2005, "month": 5, "date": 28, "utc": true}, {"year": 2005, "month": 9, "date": 5, "utc": true}, {"year": 2005, "month": 12, "date": 14, "utc": true}, {"year": 2006, "month": 3, "date": 24, "utc": true}], "format": "%d/%m/%y", "tickSize": 14, "labelPadding": 16, "labelFlush": false, "labelOverlap": false, "labelFontSize": 19}},
            "y": {"field": "a8", "type": "quantitative",
              "scale": {"domain": [-0.9, 40], "nice": false, "zero": false},
              "axis": {"orient": "left", "title": "Salinity (ppt)", "values": [0, 5, 10, 15, 20, 25, 30, 35, 40], "tickSize": 12, "labelPadding": 14, "labelFontSize": 19, "titleFontSize": 21, "titleFontWeight": "normal", "titlePadding": 12}},
            "y2": {"field": "b8"}
          }
        },
        {
          "data": {"name": "tide"},
          "mark": {"type": "rule", "color": "#000000", "strokeWidth": 2.3},
          "encoding": {
            "x": {"field": "d", "type": "temporal",
              "axis": {"orient": "bottom", "title": null, "values": [{"year": 2005, "month": 4, "date": 8, "utc": true}, {"year": 2005, "month": 7, "date": 17, "utc": true}, {"year": 2005, "month": 10, "date": 25, "utc": true}, {"year": 2006, "month": 2, "date": 2, "utc": true}], "tickSize": 7, "labels": false, "domain": false}},
            "y": {"field": "lo8", "type": "quantitative",
              "axis": {"orient": "left", "title": null, "values": [2.5, 7.5, 12.5, 17.5, 22.5, 27.5, 32.5, 37.5], "tickSize": 7, "labels": false, "domain": false}},
            "y2": {"field": "hi8"}
          }
        },
        {
          "data": {"name": "obs"},
          "transform": [{"filter": "isValid(datum.site8)"}],
          "mark": {"type": "point", "shape": "M-0.1,-1H0.1V-0.1H1V0.1H0.1V1H-0.1V0.1H-1V-0.1H-0.1Z", "size": 784, "filled": true, "fill": "#ff0000", "stroke": "#000000", "strokeWidth": 1, "opacity": 1},
          "encoding": {
            "x": {"field": "d", "type": "temporal", "axis": null},
            "y": {"field": "site8", "type": "quantitative", "axis": null}
          }
        },
        {
          "data": {"values": [{"d": "2005-07-22", "v": 36.6, "label": "Site 8"}]},
          "mark": {"type": "text", "fontSize": 21, "font": "Liberation Sans", "color": "#000000", "align": "center", "baseline": "middle"},
          "encoding": {
            "x": {"field": "d", "type": "temporal", "axis": null},
            "y": {"field": "v", "type": "quantitative", "axis": null},
            "text": {"field": "label"}
          }
        }
      ],
      "resolve": {"axis": {"x": "independent", "y": "independent"}}
    }
  ],
  "spacing": 53,
  "bounds": "flush",
  "config": {
    "font": "Liberation Sans",
    "view": {"stroke": "#000000", "strokeWidth": 1},
    "axis": {"labelFont": "Liberation Sans", "titleFont": "Liberation Sans", "labelColor": "#000000", "titleColor": "#000000", "domainColor": "#000000", "tickColor": "#000000", "grid": false, "domainWidth": 1, "tickWidth": 1}
  }
}
